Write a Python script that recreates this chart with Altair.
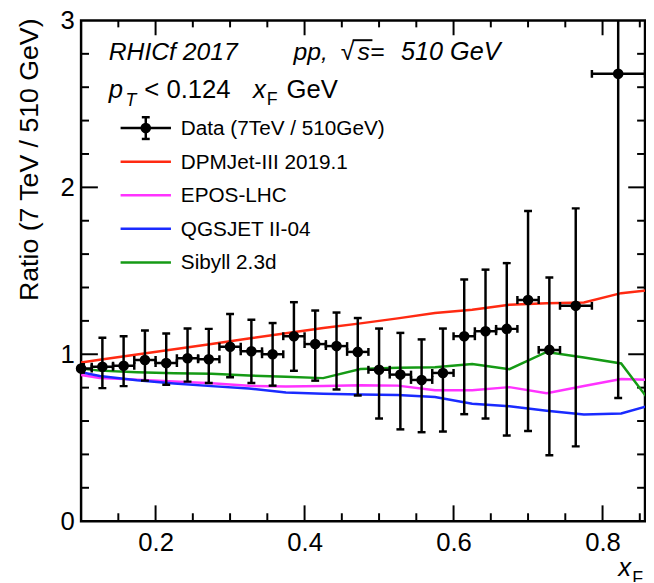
import altair as alt
import pandas as pd

# ---------------- data ----------------
x_data = [0.1, 0.1286, 0.1571, 0.1857, 0.2143, 0.2429, 0.2714, 0.3, 0.3286, 0.3571,
          0.3857, 0.4143, 0.4429, 0.4714, 0.5, 0.5286, 0.5571, 0.5857, 0.6143, 0.6429,
          0.6714, 0.7, 0.7286, 0.764, 0.821]
x_low = [0.0857, 0.1143, 0.1429, 0.1714, 0.2, 0.2286, 0.2571, 0.2857, 0.3143, 0.3429,
         0.3714, 0.4, 0.4286, 0.4571, 0.4857, 0.5143, 0.5429, 0.5714, 0.6, 0.6286,
         0.6571, 0.6857, 0.7143, 0.7429, 0.7857]
x_high = [0.1143, 0.1429, 0.1714, 0.2, 0.2286, 0.2571, 0.2857, 0.3143, 0.3429, 0.3714,
          0.4, 0.4286, 0.4571, 0.4857, 0.5143, 0.5429, 0.5714, 0.6, 0.6286, 0.6571,
          0.6857, 0.7143, 0.7429, 0.7857, 0.857]
y_data = [0.915, 0.925, 0.931, 0.966, 0.947, 0.976, 0.970, 1.045, 1.018, 1.000,
          1.108, 1.061, 1.049, 1.014, 0.907, 0.878, 0.846, 0.888, 1.108, 1.138,
          1.152, 1.325, 1.026, 1.290, 2.68]
y_low = [0.89, 0.797, 0.809, 0.842, 0.817, 0.836, 0.828, 0.862, 0.828, 0.812,
         0.901, 0.842, 0.789, 0.753, 0.615, 0.550, 0.533, 0.537, 0.641, 0.615,
         0.513, 0.540, 0.395, 0.448, 0.738]
y_high = [0.94, 1.099, 1.108, 1.142, 1.124, 1.154, 1.152, 1.241, 1.207, 1.187,
          1.312, 1.262, 1.250, 1.217, 1.154, 1.128, 1.089, 1.154, 1.448, 1.507,
          1.546, 1.858, 1.460, 1.874, 4.6]

model_x = [0.1, 0.125, 0.175, 0.225, 0.275, 0.325, 0.375, 0.425, 0.475, 0.525,
           0.575, 0.625, 0.675, 0.725, 0.775, 0.825, 0.875]
dpmjet = [0.951, 0.967, 0.999, 1.030, 1.062, 1.094, 1.126, 1.157, 1.185, 1.215,
          1.247, 1.267, 1.296, 1.305, 1.310, 1.366, 1.390]
epos = [0.876, 0.858, 0.848, 0.837, 0.826, 0.811, 0.807, 0.810, 0.814, 0.812,
        0.785, 0.784, 0.803, 0.767, 0.810, 0.852, 0.845]
qgsjet = [0.892, 0.870, 0.844, 0.825, 0.809, 0.795, 0.771, 0.763, 0.759, 0.756,
          0.744, 0.703, 0.688, 0.662, 0.639, 0.645, 0.708]
sibyll = [0.915, 0.902, 0.892, 0.886, 0.883, 0.873, 0.865, 0.857, 0.912, 0.919,
          0.922, 0.941, 0.911, 1.014, 0.980, 0.945, 0.650]

model_names = ["DPMJet-III 2019.1", "EPOS-LHC", "QGSJET II-04", "Sibyll 2.3d"]
model_colors = ["#ff2a12", "#ff33ff", "#1a2bff", "#159a15"]
legend_labels = ["Data (7TeV / 510GeV)"] + model_names

x_major = [0.2, 0.4, 0.6, 0.8]
x_minor = [0.15, 0.25, 0.3, 0.35, 0.45, 0.5, 0.55, 0.65, 0.7, 0.75, 0.85]
y_major = [1, 2]
y_minor = [0.2, 0.4, 0.6, 0.8, 1.2, 1.4, 1.6, 1.8, 2.2, 2.4, 2.6, 2.8]

# ---------------- tables ----------------
pts = pd.DataFrame({"x": x_data, "y": y_data, "ylo": y_low, "yhi": y_high,
                    "xlo": x_low, "xhi": x_high})
caps_v = pd.DataFrame({"x": x_data + x_data, "y": y_low + y_high})
caps_h = pd.DataFrame({"x": x_low + x_high, "y": y_data + y_data})
models = pd.DataFrame({
    "x": model_x * 4,
    "y": dpmjet + epos + qgsjet + sibyll,
    "model": sum([[n] * len(model_x) for n in model_names], []),
})

W, H = 571, 507
FONT = "Liberation Sans"
xs = alt.Scale(domain=[0.1, 0.857], nice=False, zero=False)
ys = alt.Scale(domain=[0, 3], nice=False, zero=False)
x_axis = alt.Axis(values=x_major, format=".1f", ticks=False, domain=False, grid=False,
                  labelFontSize=26, labelFont=FONT, labelColor="black", labelPadding=9,
                  title=None)
y_axis = alt.Axis(values=[0, 1, 2, 3], format="d", ticks=False, domain=False, grid=False,
                  labelFontSize=26, labelFont=FONT, labelColor="black", labelPadding=7,
                  title=None)


def X(f):
    return alt.X(f, type="quantitative", scale=xs, axis=x_axis)


def Y(f):
    return alt.Y(f, type="quantitative", scale=ys, axis=y_axis)


LW = 2.5
layers = []


# frame ticks (inward, ROOT style)
def xticks(vals, length):
    d = pd.DataFrame({"v": vals})
    b = alt.Chart(d).mark_rule(color="black", strokeWidth=2).encode(
        x=X("v"), y=alt.value(H), y2=alt.value(H - length))
    t = alt.Chart(d).mark_rule(color="black", strokeWidth=2).encode(
        x=X("v"), y=alt.value(0), y2=alt.value(length - 1))
    return [b, t]


def yticks(vals, length):
    d = pd.DataFrame({"v": vals})
    l = alt.Chart(d).mark_rule(color="black", strokeWidth=2).encode(
        y=Y("v"), x=alt.value(0), x2=alt.value(length))
    r = alt.Chart(d).mark_rule(color="black", strokeWidth=2).encode(
        y=Y("v"), x=alt.value(W), x2=alt.value(W - length))
    return [l, r]


layers += xticks(x_major, 16) + xticks(x_minor, 8) + yticks(y_major, 17) + yticks(y_minor, 8)

# model curves
layers.append(alt.Chart(models).mark_line(strokeWidth=LW, clip=True).encode(
    x=X("x"), y=Y("y"),
    color=alt.Color("model:N", scale=alt.Scale(domain=model_names, range=model_colors),
                    legend=None)))

# data error bars
layers.append(alt.Chart(pts).mark_rule(color="black", strokeWidth=LW, clip=True).encode(
    x=X("x"), y=Y("ylo"), y2="yhi"))
layers.append(alt.Chart(pts).mark_rule(color="black", strokeWidth=LW, clip=True).encode(
    x=X("xlo"), x2="xhi", y=Y("y")))
layers.append(alt.Chart(caps_v).mark_tick(color="black", orient="horizontal", size=8,
                                          thickness=LW, clip=True, opacity=1).encode(
    x=X("x"), y=Y("y")))
layers.append(alt.Chart(caps_h).mark_tick(color="black", orient="vertical", size=8,
                                          thickness=LW, clip=True, opacity=1).encode(
    x=X("x"), y=Y("y")))
layers.append(alt.Chart(pts).mark_circle(color="black", size=115, opacity=1).encode(
    x=X("x"), y=Y("y")))


# ---------------- annotations ----------------
def label(text, px, py, size=25, style="normal", align="left", baseline="alphabetic",
          angle=0):
    kw = dict(align=align, baseline=baseline, font=FONT, fontSize=size,
              fontStyle=style, color="black")
    if angle:
        kw["angle"] = angle
    return alt.Chart(pd.DataFrame({"t": [text]})).mark_text(**kw).encode(
        text="t:N", x=alt.value(px), y=alt.value(py))


# header line 1
layers.append(label("RHICf 2017", 28, 40, style="italic"))
layers.append(label("pp,", 215, 40, style="italic"))
layers.append(label("√", 263, 40, size=25))
layers.append(label("s=", 280, 40, style="italic"))
layers.append(label("510 GeV", 324, 40, size=25.5, style="italic"))
layers.append(alt.Chart(pd.DataFrame({"t": ["sqrt bar"]})).mark_rule(
    color="black", strokeWidth=2).encode(x=alt.value(275), x2=alt.value(295),
                                         y=alt.value(20)))
# header line 2
layers.append(label("p", 28, 79, size=26, style="italic"))
layers.append(label("T", 45, 87, size=18, style="italic"))
layers.append(label("< 0.124", 64, 79, size=26))
layers.append(label("x", 174, 79, size=26, style="italic"))
layers.append(label("F", 188, 86, size=18))
layers.append(label("GeV", 208, 79, size=26))

# y title
layers.append(label("Ratio (7 TeV / 510 GeV)", -52, -2, size=27, align="right",
                    baseline="middle", angle=270))
# x title
layers.append(label("x", 544, 563, size=26, style="italic"))
layers.append(label("F", 558, 571, size=18))

# legend
leg_y = [109, 143, 177, 211, 245]
for i, name in enumerate(legend_labels):
    layers.append(label(name, 101, leg_y[i] + 7, size=21))
for i, c in enumerate(model_colors):
    d = pd.DataFrame({"m": [model_names[i]]})
    layers.append(alt.Chart(d).mark_rule(strokeWidth=LW, color=c).encode(
        x=alt.value(40), x2=alt.value(91), y=alt.value(leg_y[i + 1])))
ld = pd.DataFrame({"m": [legend_labels[0]]})
layers.append(alt.Chart(ld).mark_rule(strokeWidth=LW, color="black").encode(
    x=alt.value(40), x2=alt.value(91), y=alt.value(leg_y[0])))
layers.append(alt.Chart(ld).mark_rule(strokeWidth=LW, color="black").encode(
    x=alt.value(65.5), y=alt.value(leg_y[0] - 11), y2=alt.value(leg_y[0] + 11)))
layers.append(alt.Chart(ld).mark_rule(strokeWidth=LW, color="black").encode(
    x=alt.value(61.5), x2=alt.value(69.5), y=alt.value(leg_y[0] - 11)))
layers.append(alt.Chart(ld).mark_rule(strokeWidth=LW, color="black").encode(
    x=alt.value(61.5), x2=alt.value(69.5), y=alt.value(leg_y[0] + 11)))
layers.append(alt.Chart(ld).mark_point(filled=True, shape="circle", size=115, color="black",
                                       opacity=1).encode(
    x=alt.value(65.5), y=alt.value(leg_y[0])))

chart = alt.layer(*layers).properties(
    width=W, height=H, autosize="none",
    padding={"left": 74, "top": 9, "right": 1, "bottom": 58},
    background="white",
).configure_view(stroke="black", strokeWidth=2.5)

chart.save("out.html", embed_options={"renderer": "svg", "actions": False})
